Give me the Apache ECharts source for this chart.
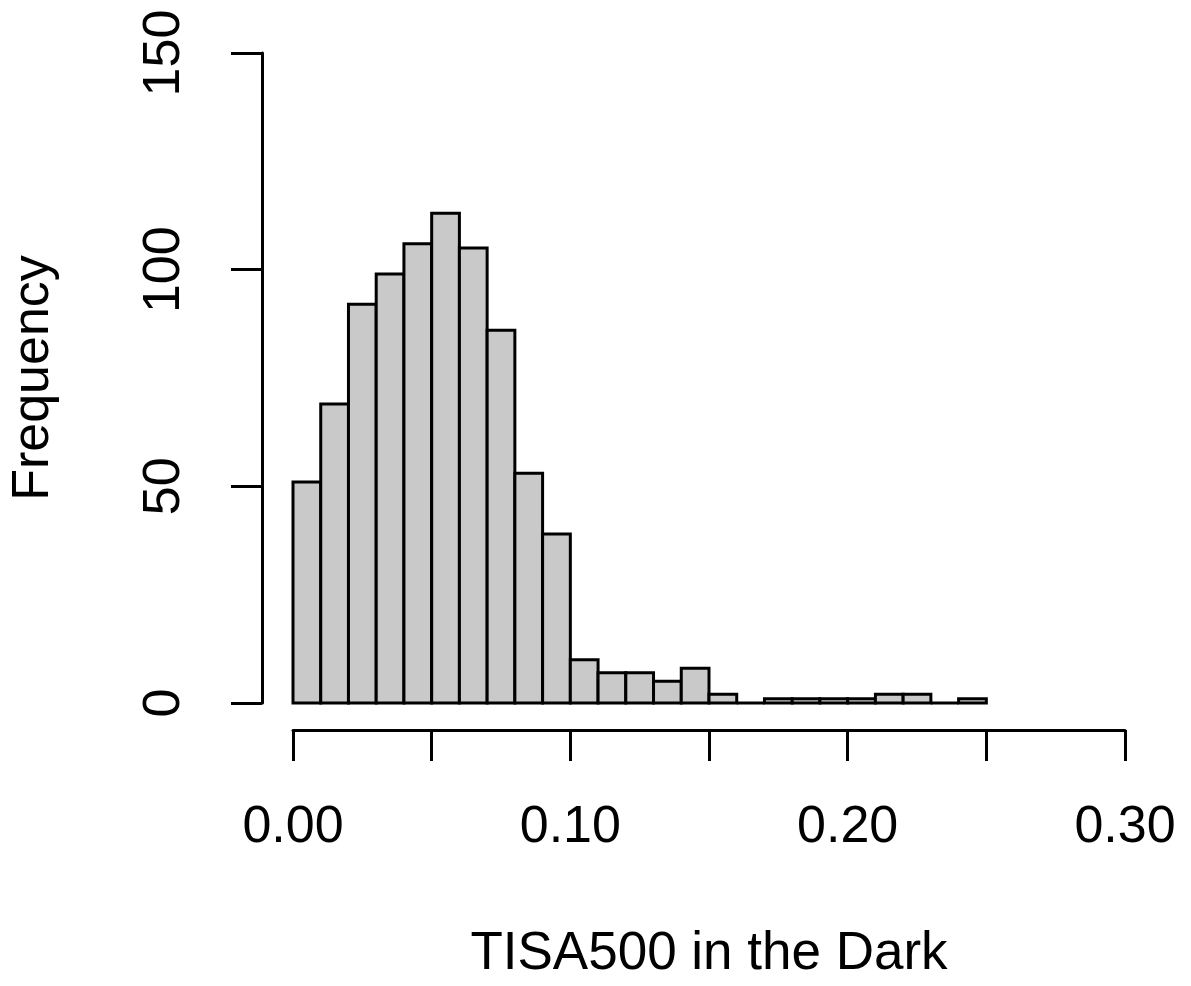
<!DOCTYPE html>
<html>
<head>
<meta charset="utf-8">
<script src="https://cdn.jsdelivr.net/npm/echarts@6/dist/echarts.min.js"></script>
<style>
html,body{margin:0;padding:0;background:#fff;}
#chart{width:1191px;height:986px;}
</style>
</head>
<body>
<div id="chart"></div>
<script>
// Histogram bins (left edges) and counts
const binStarts = [0.00, 0.01, 0.02, 0.03, 0.04, 0.05, 0.06, 0.07, 0.08, 0.09,
                   0.10, 0.11, 0.12, 0.13, 0.14, 0.15, 0.16, 0.17, 0.18, 0.19,
                   0.20, 0.21, 0.22, 0.23, 0.24];
const binWidth = 0.01;
const counts = [51, 69, 92, 99, 106, 113, 105, 86, 53, 39,
                10, 7, 7, 5, 8, 2, 0, 1, 1, 1,
                1, 2, 2, 0, 1];
const xTickLabels = ['0.00', '0.10', '0.20', '0.30'];
const yTickLabels = ['0', '50', '100', '150'];
const xTitle = 'TISA500 in the Dark';
const yTitle = 'Frequency';

const FONT = "'Liberation Sans', Arial, Helvetica, sans-serif";
const chart = echarts.init(document.getElementById('chart'), null, {renderer: 'canvas'});

const data = binStarts.map((s, i) => [s, s + binWidth, counts[i]]);

chart.setOption({
  backgroundColor: '#ffffff',
  animation: false,
  grid: {left: 293, right: 66, top: 53, bottom: 282, containLabel: false},
  xAxis: {
    type: 'value',
    min: 0, max: 0.30, interval: 0.05,
    offset: 27,
    name: xTitle,
    nameLocation: 'middle',
    nameGap: 198,
    nameTextStyle: {fontFamily: FONT, fontSize: 53, color: '#000'},
    axisLine: {show: true, onZero: false, lineStyle: {color: '#000', width: 3}},
    axisTick: {show: true, length: 31, lineStyle: {color: '#000', width: 3}},
    axisLabel: {
      fontFamily: FONT, fontSize: 52, color: '#000', margin: 72,
      formatter: function (v) {
        const idx = Math.round(v * 10 * 1000) / 1000;
        if (Math.abs(idx - Math.round(idx)) < 1e-6) return xTickLabels[Math.round(idx)] || '';
        return '';
      }
    },
    splitLine: {show: false}
  },
  yAxis: {
    type: 'value',
    min: 0, max: 150, interval: 50,
    offset: 31,
    name: yTitle,
    nameLocation: 'middle',
    nameRotate: 90,
    nameGap: 202,
    nameTextStyle: {fontFamily: FONT, fontSize: 52, color: '#000'},
    axisLine: {show: true, onZero: false, lineStyle: {color: '#000', width: 3}},
    axisTick: {show: true, length: 31, lineStyle: {color: '#000', width: 3}},
    axisLabel: {
      fontFamily: FONT, fontSize: 52, color: '#000', margin: 71, rotate: 90,
      formatter: function (v) { return yTickLabels[Math.round(v / 50)] || ''; }
    },
    splitLine: {show: false}
  },
  series: [{
    type: 'custom',
    data: data,
    encode: {x: [0, 1], y: 2},
    renderItem: function (params, api) {
      const p0 = api.coord([api.value(0), api.value(2)]);
      const p1 = api.coord([api.value(1), 0]);
      return {
        type: 'rect',
        shape: {x: p0[0], y: p0[1], width: p1[0] - p0[0], height: p1[1] - p0[1]},
        style: {fill: '#c9c9c9', stroke: '#000', lineWidth: 3}
      };
    }
  }]
});
</script>
</body>
</html>
